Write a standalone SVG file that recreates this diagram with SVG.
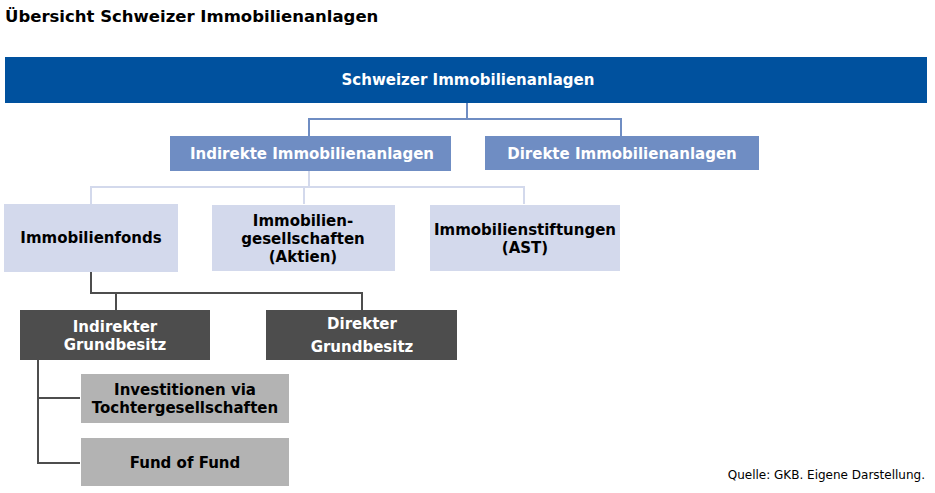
<svg xmlns="http://www.w3.org/2000/svg" width="935" height="493" viewBox="0 0 935 493">
<style>
text{font-family:"DejaVu Sans",Verdana,sans-serif;font-weight:bold;text-anchor:middle}
.t{font-size:15px}
.w{fill:#fff}
.k{fill:#000}
.blue{fill:#00519e}
.mid{fill:#6f8dc3}
.light{fill:#d3d9ec}
.dark{fill:#4d4d4d}
.grey{fill:#b3b3b3}
.c1{stroke:#6f8dc3;stroke-width:2;fill:none}
.c2{stroke:#d3d9ec;stroke-width:2;fill:none}
.c3{stroke:#4d4d4d;stroke-width:2;fill:none}
</style>
<rect width="935" height="493" fill="#fff"/>
<text x="5" y="22" style="font-size:16.5px;text-anchor:start">Übersicht Schweizer Immobilienanlagen</text>
<g id="connectors">
<path class="c1" d="M467 103V119M309 136V119H621V136"/>
<path class="c2" d="M309 171V187M91 204V187H524V204M304 187V204"/>
<path class="c3" d="M91 272V293H362V310M116 293V310"/>
<path class="c3" d="M38 360V463H80M38 398H80"/>
</g>
<g id="n_root"><rect class="blue" x="5" y="57" width="922" height="46"/><text class="t w" x="468" y="85">Schweizer Immobilienanlagen</text></g>
<g id="n_indirekt"><rect class="mid" x="170" y="136" width="281" height="35"/><text class="t w" x="312" y="159">Indirekte Immobilienanlagen</text></g>
<g id="n_direkt"><rect class="mid" x="485" y="136" width="274" height="34"/><text class="t w" x="622" y="159">Direkte Immobilienanlagen</text></g>
<g id="n_fonds"><rect class="light" x="4" y="204" width="174" height="68"/><text class="t k" x="91" y="243">Immobilienfonds</text></g>
<g id="n_ges"><rect class="light" x="212" y="205" width="183" height="66"/><text class="t k" x="303" y="226">Immobilien-</text><text class="t k" x="303" y="244">gesellschaften</text><text class="t k" x="303" y="262">(Aktien)</text></g>
<g id="n_stift"><rect class="light" x="430" y="205" width="190" height="66"/><text class="t k" x="525" y="235">Immobilienstiftungen</text><text class="t k" x="525" y="253">(AST)</text></g>
<g id="n_igb"><rect class="dark" x="20" y="310" width="190" height="50"/><text class="t w" x="115" y="332">Indirekter</text><text class="t w" x="115" y="350">Grundbesitz</text></g>
<g id="n_dgb"><rect class="dark" x="266" y="310" width="191" height="50"/><text class="t w" x="362" y="329">Direkter</text><text class="t w" x="362" y="352">Grundbesitz</text></g>
<g id="n_inv"><rect class="grey" x="81" y="374" width="208" height="49"/><text class="t k" x="185" y="395">Investitionen via</text><text class="t k" x="185" y="413">Tochtergesellschaften</text></g>
<g id="n_fof"><rect class="grey" x="81" y="438" width="208" height="48"/><text class="t k" x="185" y="468">Fund of Fund</text></g>
<text x="925" y="479" style="font-size:12px;font-weight:normal;text-anchor:end">Quelle: GKB. Eigene Darstellung.</text>
</svg>
